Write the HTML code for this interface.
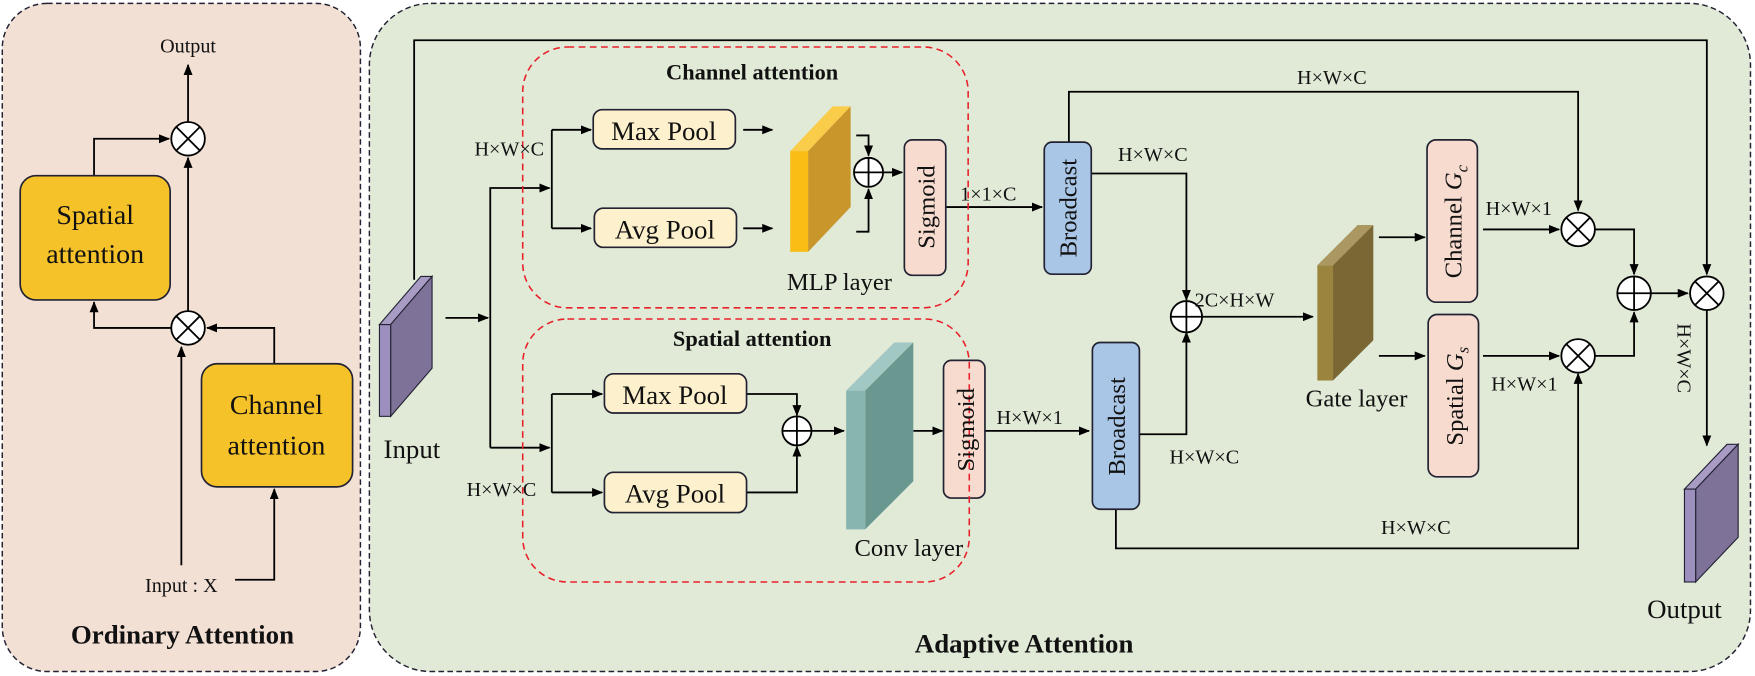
<!DOCTYPE html>
<html><head><meta charset="utf-8"><style>html,body{margin:0;padding:0;background:#fff}svg{display:block}text{font-family:"Liberation Serif",serif;fill:#111}</style></head><body>
<svg width="1755" height="676" viewBox="0 0 1568 604" xmlns="http://www.w3.org/2000/svg">
<defs><marker id="a" markerWidth="10" markerHeight="8" refX="9" refY="4" orient="auto" markerUnits="userSpaceOnUse"><path d="M0,0 L10,4 L0,8 z" fill="#000"/></marker></defs>
<rect x="2" y="3" width="320" height="597" rx="40" fill="#f3e0d5" stroke="#223" stroke-width="1.3" stroke-dasharray="5,3"/>
<rect x="330" y="3" width="1234" height="597" rx="55" fill="#e0ead7" stroke="#223" stroke-width="1.3" stroke-dasharray="5,3"/>
<g stroke="#000" stroke-width="1.6" fill="none">
<line x1="168" y1="109" x2="168" y2="58" marker-end="url(#a)"/>
<polyline points="84,157 84,124 151,124" marker-end="url(#a)"/>
<line x1="168" y1="278" x2="168" y2="141" marker-end="url(#a)"/>
<polyline points="153,293 84,293 84,270" marker-end="url(#a)"/>
<polyline points="245,325 245,293 185,293" marker-end="url(#a)"/>
<line x1="162" y1="505" x2="162" y2="310" marker-end="url(#a)"/>
<polyline points="210,518 245,518 245,437" marker-end="url(#a)"/>
<polyline points="370,250 370,36 1525,36 1525,245" marker-end="url(#a)"/>
<line x1="398" y1="284" x2="436" y2="284" marker-end="url(#a)"/>
<polyline points="438,400 438,168 491,168" marker-end="url(#a)"/>
<polyline points="493,116 493,204"/>
<line x1="493" y1="116" x2="528" y2="116" marker-end="url(#a)"/>
<line x1="493" y1="204" x2="528" y2="204" marker-end="url(#a)"/>
<line x1="664" y1="116" x2="690" y2="116" marker-end="url(#a)"/>
<line x1="664" y1="204" x2="690" y2="204" marker-end="url(#a)"/>
<polyline points="765,121 776,121 776,139" marker-end="url(#a)"/>
<polyline points="765,207 776,207 776,169" marker-end="url(#a)"/>
<line x1="789" y1="154" x2="806" y2="154" marker-end="url(#a)"/>
<line x1="845" y1="185" x2="931" y2="185" marker-end="url(#a)"/>
<polyline points="955,127 955,82 1410,82 1410,188" marker-end="url(#a)"/>
<polyline points="975,155 1060,155 1060,268" marker-end="url(#a)"/>
<line x1="1073" y1="283" x2="1173" y2="283" marker-end="url(#a)"/>
<line x1="1232" y1="212" x2="1273" y2="212" marker-end="url(#a)"/>
<line x1="1232" y1="318" x2="1273" y2="318" marker-end="url(#a)"/>
<line x1="1325" y1="205" x2="1393" y2="205" marker-end="url(#a)"/>
<line x1="1325" y1="318" x2="1393" y2="318" marker-end="url(#a)"/>
<polyline points="1425,205 1460,205 1460,245" marker-end="url(#a)"/>
<polyline points="1425,318 1460,318 1460,279" marker-end="url(#a)"/>
<line x1="1475" y1="262" x2="1508" y2="262" marker-end="url(#a)"/>
<line x1="1525" y1="277" x2="1525" y2="398" marker-end="url(#a)"/>
<line x1="438" y1="400" x2="491" y2="400" marker-end="url(#a)"/>
<polyline points="493,352 493,440"/>
<line x1="493" y1="352" x2="538" y2="352" marker-end="url(#a)"/>
<line x1="493" y1="440" x2="538" y2="440" marker-end="url(#a)"/>
<polyline points="667,352 712,352 712,371" marker-end="url(#a)"/>
<polyline points="667,440 712,440 712,399" marker-end="url(#a)"/>
<line x1="725" y1="385" x2="754" y2="385" marker-end="url(#a)"/>
<line x1="816" y1="385" x2="842" y2="385" marker-end="url(#a)"/>
<line x1="880" y1="385" x2="973" y2="385" marker-end="url(#a)"/>
<polyline points="1018,388 1060,388 1060,297" marker-end="url(#a)"/>
<polyline points="997,455 997,490 1410,490 1410,334" marker-end="url(#a)"/>
</g>
<rect x="18" y="157" width="134" height="111" rx="14" fill="#f5c22a" stroke="#223" stroke-width="1.5"/>
<rect x="180" y="325" width="135" height="110" rx="14" fill="#f5c22a" stroke="#223" stroke-width="1.5"/>
<g fill="#fdf0cc" stroke="#223" stroke-width="1.5">
<rect x="530" y="98" width="127" height="35" rx="8"/>
<rect x="531" y="186" width="127" height="35" rx="8"/>
<rect x="540" y="334" width="127" height="35" rx="8"/>
<rect x="540" y="422" width="127" height="36" rx="8"/>
</g>
<g fill="#f7dbcf" stroke="#223" stroke-width="1.5">
<rect x="808" y="125" width="37" height="121" rx="7"/>
<rect x="843" y="322" width="37" height="123" rx="7"/>
<rect x="1275" y="125" width="45" height="145" rx="8"/>
<rect x="1276" y="281" width="45" height="145" rx="8"/>
</g>
<g fill="#a9c6e6" stroke="#223" stroke-width="1.5">
<rect x="933" y="127" width="42" height="118" rx="7"/>
<rect x="976" y="306" width="42" height="149" rx="7"/>
</g>
<rect x="467" y="42" width="398" height="233" rx="40" fill="none" stroke="#e8202a" stroke-width="1.4" stroke-dasharray="6,4"/>
<rect x="467" y="285" width="399" height="235" rx="40" fill="none" stroke="#e8202a" stroke-width="1.4" stroke-dasharray="6,4"/>
<g stroke="#223" stroke-width="1">
<polygon points="339,290 376,247 386,247 349,290" fill="#a89cc4"/><polygon points="349,290 386,247 386,329 349,372" fill="#7f7298"/><rect x="339" y="290" width="10" height="82" fill="#9d8fbd"/>
<polygon points="1505,437 1543,397 1553,397 1515,437" fill="#a89cc4"/><polygon points="1515,437 1553,397 1553,480 1515,520" fill="#7f7298"/><rect x="1505" y="437" width="10" height="83" fill="#9d8fbd"/>
</g>
<g>
<polygon points="706,135 744,95 760,95 722,135" fill="#f9cc4a"/><polygon points="722,135 760,95 760,185 722,225" fill="#c8962a"/><rect x="706" y="135" width="16" height="90" fill="#f9bd16"/>
<polygon points="1177,237 1213,201 1227,201 1191,237" fill="#ab9760"/><polygon points="1191,237 1227,201 1227,304 1191,340" fill="#7a6733"/><rect x="1177" y="237" width="14" height="103" fill="#9a843e"/>
<polygon points="756,349 799,306 816,306 773,349" fill="#a2c8c3"/><polygon points="773,349 816,306 816,430 773,473" fill="#6a9890"/><rect x="756" y="349" width="17" height="124" fill="#88b5b0"/>
</g>
<g fill="#fff" stroke="#000" stroke-width="1.6">
<circle cx="168" cy="124" r="15"/><circle cx="168" cy="293" r="15"/>
<circle cx="1410" cy="205" r="15"/><circle cx="1410" cy="318" r="15"/><circle cx="1525" cy="262" r="15"/>
<circle cx="776" cy="154" r="13"/><circle cx="712" cy="385" r="13"/><circle cx="1060" cy="283" r="14"/><circle cx="1460" cy="262" r="15"/>
</g>
<g stroke="#000" stroke-width="1.6">
<path d="M157.4,113.4L178.6,134.6M178.6,113.4L157.4,134.6M157.4,282.4L178.6,303.6M178.6,282.4L157.4,303.6M1399.4,194.4L1420.6,215.6M1420.6,194.4L1399.4,215.6M1399.4,307.4L1420.6,328.6M1420.6,307.4L1399.4,328.6M1514.4,251.4L1535.6,272.6M1535.6,251.4L1514.4,272.6"/>
<path d="M763,154H789M776,141V167M699,385H725M712,372V398M1046,283H1074M1060,269V297M1445,262H1475M1460,247V277"/>
</g>
<g font-size="18" text-anchor="middle">
<text x="168" y="47">Output</text>
<text x="162" y="529">Input : X</text>
<text x="455" y="139">H×W×C</text>
<text x="448" y="443">H×W×C</text>
<text x="883" y="179">1×1×C</text>
<text x="1030" y="144">H×W×C</text>
<text x="1190" y="75">H×W×C</text>
<text x="1103" y="274">2C×H×W</text>
<text x="1357" y="192">H×W×1</text>
<text x="1362" y="349">H×W×1</text>
<text x="920" y="379">H×W×1</text>
<text x="1076" y="414">H×W×C</text>
<text x="1265" y="477">H×W×C</text>
<text transform="translate(1499,320) rotate(90)">H×W×C</text>
</g>
<g font-size="24" text-anchor="middle">
<text x="85" y="200" font-size="25">Spatial</text><text x="85" y="235" font-size="25">attention</text>
<text x="247" y="370" font-size="25">Channel</text><text x="247" y="406" font-size="25">attention</text>
<text x="593" y="125">Max Pool</text>
<text x="594" y="213">Avg Pool</text>
<text x="603" y="361">Max Pool</text>
<text x="603" y="449">Avg Pool</text>
<text x="750" y="259" font-size="22">MLP layer</text>
<text x="812" y="497" font-size="22">Conv layer</text>
<text x="1212" y="363" font-size="22">Gate layer</text>
<text x="368" y="409">Input</text>
<text x="1505" y="552">Output</text>
<text transform="translate(835,185) rotate(-90)" font-size="22">Sigmoid</text>
<text transform="translate(870,384) rotate(-90)" font-size="22">Sigmoid</text>
<text transform="translate(962,186) rotate(-90)" font-size="22">Broadcast</text>
<text transform="translate(1005,381) rotate(-90)" font-size="22">Broadcast</text>
<text transform="translate(1306,198) rotate(-90)" font-size="22">Channel <tspan font-style="italic">G</tspan><tspan font-size="15" dy="5" font-style="italic">c</tspan></text>
<text transform="translate(1307,354) rotate(-90)" font-size="22">Spatial <tspan font-style="italic">G</tspan><tspan font-size="15" dy="5" font-style="italic">s</tspan></text>
</g>
<g font-weight="bold" text-anchor="middle">
<text x="672" y="71" font-size="20">Channel attention</text>
<text x="672" y="309" font-size="20">Spatial attention</text>
<text x="163" y="575" font-size="24">Ordinary Attention</text>
<text x="915" y="583" font-size="24">Adaptive Attention</text>
</g>
</svg>
</body></html>
